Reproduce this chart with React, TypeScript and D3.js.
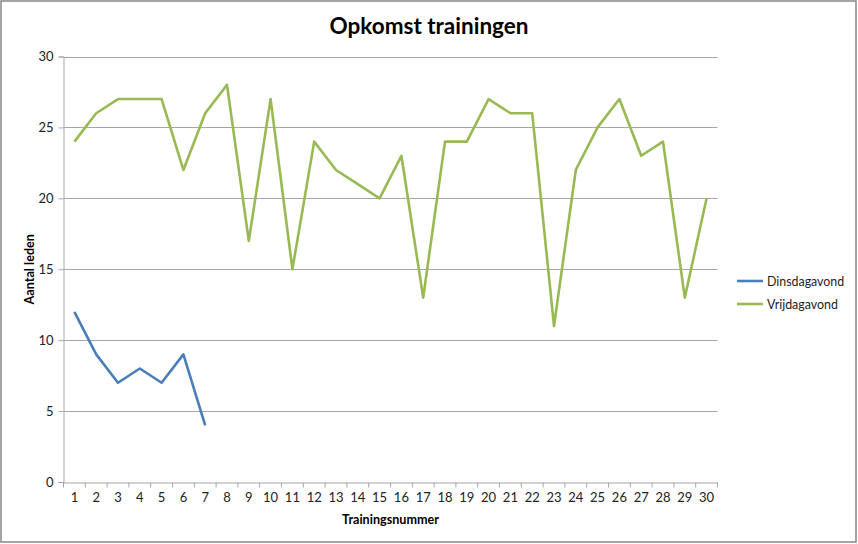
import React, { useRef, useEffect } from 'react';
import * as d3 from 'd3';

const trainings: number[] = d3.range(1, 31);
const dinsdag: number[] = [12, 9, 7, 8, 7, 9, 4];
const vrijdag: number[] = [
  24, 26, 27, 27, 27, 22, 26, 28, 17, 27,
  15, 24, 22, 21, 20, 23, 13, 24, 24, 27,
  26, 26, 11, 22, 25, 27, 23, 24, 13, 20,
];
const yTicks: number[] = [0, 5, 10, 15, 20, 25, 30];
const seriesNames = ['Dinsdagavond', 'Vrijdagavond'];
const colors = ['#4A7EBB', '#98B954'];

const W = 858;
const H = 544;
const FONT = 'Lato, "Open Sans", sans-serif';

const App: React.FC = () => {
  const svgRef = useRef<SVGSVGElement | null>(null);

  useEffect(() => {
    const svg = d3.select(svgRef.current!);
    svg.selectAll('*').remove();

    const left = 63.5;
    const right = 717.5;
    const top = 56.5;
    const bottom = 482;

    svg.append('rect')
      .attr('x', 1).attr('y', 1)
      .attr('width', W - 3).attr('height', H - 3)
      .attr('fill', '#fff')
      .attr('stroke', '#868686')
      .attr('stroke-width', 1.5);

    const x = d3.scaleBand<number>()
      .domain(trainings)
      .range([left, right]);
    const cx = (d: number) => x(d)! + x.bandwidth() / 2;

    const y = d3.scaleLinear().domain([0, 30]).range([bottom, top]);

    // gridlines
    svg.append('g')
      .selectAll('line')
      .data(yTicks.filter((t) => t > 0))
      .enter()
      .append('line')
      .attr('x1', left).attr('x2', right)
      .attr('y1', (d) => Math.round(y(d)) + 0.5)
      .attr('y2', (d) => Math.round(y(d)) + 0.5)
      .attr('stroke', '#A6A6A6')
      .attr('stroke-width', 1);

    // y axis
    const yAxis = svg.append('g')
      .attr('transform', `translate(${left},0)`)
      .call(d3.axisLeft(y).tickValues(yTicks).tickSize(5).tickPadding(5));
    yAxis.select('.domain').attr('stroke', '#A6A6A6');
    yAxis.selectAll('line').attr('stroke', '#A6A6A6');
    yAxis.selectAll('text')
      .attr('font-family', FONT).attr('font-size', 13).attr('fill', '#222');

    // x axis
    const xAxis = svg.append('g')
      .attr('transform', `translate(0,${bottom + 0.5})`)
      .call(d3.axisBottom(x).tickSize(0).tickPadding(10));
    xAxis.select('.domain').attr('stroke', '#A6A6A6');
    xAxis.selectAll('text')
      .attr('font-family', FONT).attr('font-size', 13).attr('fill', '#222');
    xAxis.append('g')
      .selectAll('line')
      .data([...trainings.map((d) => x(d)!), right])
      .enter()
      .append('line')
      .attr('x1', (d) => d).attr('x2', (d) => d)
      .attr('y1', 0).attr('y2', 5)
      .attr('stroke', '#A6A6A6');

    // lines
    const line = d3.line<number>()
      .x((_, i) => cx(trainings[i]))
      .y((d) => y(d));

    [dinsdag, vrijdag].forEach((vals, i) => {
      svg.append('path')
        .datum(vals)
        .attr('d', line)
        .attr('fill', 'none')
        .attr('stroke', colors[i])
        .attr('stroke-width', 2.6)
        .attr('stroke-linejoin', 'round');
    });

    // title
    svg.append('text')
      .attr('x', 429).attr('y', 34)
      .attr('text-anchor', 'middle')
      .attr('font-family', FONT)
      .attr('font-weight', 'bold')
      .attr('font-size', 22.5)
      .text('Opkomst trainingen');

    svg.append('text')
      .attr('x', (left + right) / 2).attr('y', 524)
      .attr('text-anchor', 'middle')
      .attr('font-family', FONT)
      .attr('font-weight', 'bold')
      .attr('font-size', 12.6)
      .text('Trainingsnummer');

    svg.append('text')
      .attr('transform', `translate(34,${(top + bottom) / 2}) rotate(-90)`)
      .attr('text-anchor', 'middle')
      .attr('font-family', FONT)
      .attr('font-weight', 'bold')
      .attr('font-size', 12.6)
      .text('Aantal leden');

    // legend
    const legend = svg.append('g').attr('transform', 'translate(737,281)');
    seriesNames.forEach((name, i) => {
      const g = legend.append('g').attr('transform', `translate(0,${i * 23})`);
      g.append('line')
        .attr('x1', 0).attr('x2', 26)
        .attr('stroke', colors[i]).attr('stroke-width', 2.6);
      g.append('text')
        .attr('x', 30).attr('y', 4.5)
        .attr('font-family', FONT)
        .attr('font-size', 12.4)
        .attr('fill', '#222')
        .text(name);
    });
  }, []);

  return (
    <svg
      ref={svgRef}
      width={W}
      height={H}
      style={{ position: 'absolute', left: 0, top: 0 }}
    />
  );
};

export default App;
